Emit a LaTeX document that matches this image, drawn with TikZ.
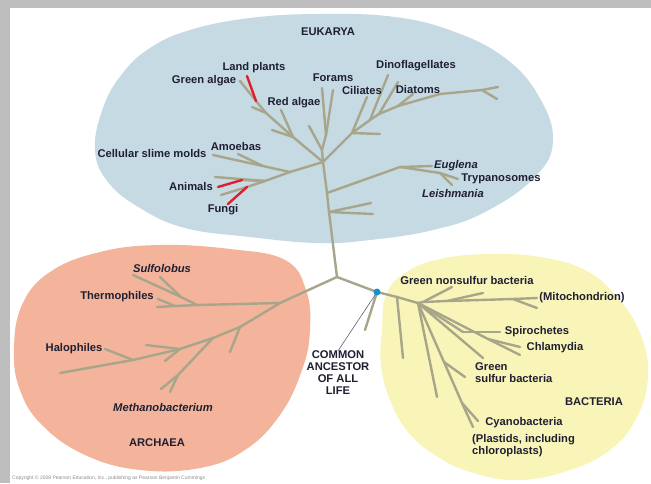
\documentclass[tikz,border=0pt]{standalone}
\usepackage{fontspec}
\setmainfont{Liberation Sans}
\usetikzlibrary{positioning}

\definecolor{frame}{RGB}{190,190,190}
\definecolor{eukblue}{HTML}{C6DAE4}
\definecolor{archsalmon}{HTML}{F3B49B}
\definecolor{bactyellow}{HTML}{F9F4B8}
\definecolor{twig}{RGB}{168,166,138}
\definecolor{plantred}{RGB}{222,30,42}
\definecolor{ink}{HTML}{1F1F33}
\definecolor{dotblue}{HTML}{1A8FD0}

\begin{document}
\begin{tikzpicture}[x=1pt,y=-1pt,
	lbl/.style={font=\bfseries\fontsize{11.2}{12}\selectfont, text=ink, inner sep=0pt},
	ital/.style={lbl, font=\bfseries\itshape\fontsize{11.2}{12}\selectfont},
	branch/.style={draw=twig, line width=2.4pt, line cap=round},
	redbranch/.style={draw=plantred, line width=2.4pt, line cap=round}]
	\useasboundingbox (0,0) rectangle (651,483);
	\fill[white] (0,0) rectangle (651,483);
	\fill[frame] (0,0) rectangle (651,8);
	\fill[frame] (0,0) rectangle (10,483);

	% the three domains
	\fill[eukblue] plot[smooth cycle, tension=0.7] coordinates {(95,150) (103,108) (122,74) (150,48) (190,30) (250,18) (320,14) (395,17) (455,32) (505,58) (538,95) (553,140) (535,177) (485,212) (433,230) (370,240) (317,243) (250,237) (185,228) (140,208) (108,182)};
	\fill[archsalmon] plot[smooth cycle, tension=0.7] coordinates {(14,350) (22,305) (50,272) (100,252) (160,245) (230,249) (285,260) (306,290) (310,330) (302,370) (280,415) (245,450) (200,468) (140,470) (85,455) (42,425) (20,390)};
	\fill[bactyellow] plot[smooth cycle, tension=0.7] coordinates {(382,330) (386,295) (405,273) (440,259) (490,254) (540,257) (585,270) (617,297) (640,333) (648,375) (637,417) (610,450) (567,471) (517,480) (470,472) (435,455) (408,432) (390,400) (381,365)};

	% branch points
	\foreach \n/\x/\y in {r/337/277, t2/329/212, t1/327/193, e1/323/162, ft/322/150, ft1/309/126,
		f1/326/135, fo1/322/88, fo2/333/90, ta/371/203, tb/373/214, g1/400/167, eu/432/166,
		g2/440/173, tr/458/179, le/452/185, a1/290/172, sm/213/155, am0/263/166, am1/238/154,
		a2/265/181, an1/215/177, an2/242/180, an3/218/187, fu1/247/187, fu2/228/204, an4/221/195,
		pj1/293/137, pt1/272/130, pt2/281/110, pj2/266/113, pt3/252/107, p1/256/101, ga/240/81,
		lp/247/76, u1/352/133, u1t/380/134, ci/367/97, u2/370/120, dn1/388/75, u3/379/114,
		dn2/398/82, u4/398/106, dt/413/94, u5/440/94, u6/482/90, ue/498/87, uf/497/99}
		\coordinate (\n) at (\x,\y);
	\foreach \n/\x/\y in {x1/280/303, s1/197/305, s2/181/297, su1/133/275, su2/160/277,
		th1/175/306, th2/158/299, th0/157/307, h1/240/327, h1t/230/352, h2/213/338,
		m1/178/375, m2/170/392, m3/161/389, h3/180/349, h3a/146/345, h3b/165/361,
		h4/133/360, h4t/105/349, hend/60/373}
		\coordinate (\n) at (\x,\y);
	\foreach \n/\x/\y in {dot/377/292, b0/418/303, bv0/397/297, bv1/403/358, bs1/365/330,
		n1/423/302, n1t/452/287, n2/447/301, n2t/483/293, n3/513/299, n3t/537/308, bm/537/298,
		sp0/463/332, sp1/500/332, ch0/488/339, ch1/520/347, ch2/520/355, gx/483/358,
		lg/437/397, gs0/444/362, gs/465/377, cf0/462/403, cf/478/421, cy/473/427}
		\coordinate (\n) at (\x,\y);

	% eukarya
	\foreach \a/\b in {r/t2, t2/t1, t1/e1, e1/ft, ft/f1, f1/fo1, f1/fo2, ft/ft1, t2/ta, t2/tb,
		t1/g1, g1/eu, g1/g2, g2/tr, g2/le, e1/a1, a1/sm, am0/am1, a1/a2, a2/an1, a2/an2,
		a2/fu1, fu1/an4, e1/pj1, pj1/pt1, pj1/pt2, pj1/pj2, pj2/pt3, pj2/p1, p1/ga,
		e1/u1, u1/u1t, u1/ci, u1/u2, u2/dn1, u2/u3, u3/dn2, u3/u4, u4/dt, u4/u5, u5/u6,
		u6/ue, u6/uf}
		\draw[branch] (\a) -- (\b);
	\foreach \a/\b in {an2/an3, fu1/fu2, p1/lp}
		\draw[redbranch] (\a) -- (\b);
	% archaea
	\foreach \a/\b in {r/x1, x1/s1, s1/th1, th1/th0, th1/th2, s1/s2, s2/su1, s2/su2,
		x1/h1, h1/h2, h2/h3, h3/h4, h4/hend, h1/h1t, h2/m1, m1/m2, m1/m3, h3/h3a, h3/h3b, h4/h4t}
		\draw[branch] (\a) -- (\b);
	% bacteria
	\foreach \a/\b in {r/dot, dot/bv0, bv0/b0, bv0/bv1, dot/bs1, b0/n1, n1/n2, n2/n3, n3/bm,
		n1/n1t, n2/n2t, n3/n3t, b0/sp0, sp0/sp1, b0/ch0, ch0/ch1, ch0/ch2, b0/gx, b0/lg,
		b0/gs0, gs0/cf0, cf0/cy, gs0/gs, cf0/cf}
		\draw[branch] (\a) -- (\b);

	\node[lbl] (euk) at (328,32) {EUKARYA};
	\node[lbl] (landpl) at (254,68) {Land plants};
	\node[lbl] (greenal) at (204,81) {Green algae};
	\node[lbl] (redal) at (294,103) {Red algae};
	\node[lbl] (forams) at (333,78) {Forams};
	\node[lbl] (cil) at (362,90) {Ciliates};
	\node[lbl] (dino) at (416,66) {Dinoflagellates};
	\node[lbl] (diat) at (418,89) {Diatoms};
	\node[lbl] (slime) at (152,153) {Cellular slime molds};
	\node[lbl] (amoeb) at (236,146) {Amoebas};
	\node[lbl] (anim) at (191,186) {Animals};
	\node[lbl] (fungi) at (223,210) {Fungi};
	\node[ital] (eugl) at (456,166) {Euglena};
	\node[lbl] (tryp) at (501,179) {Trypanosomes};
	\node[ital] (leish) at (453,193) {Leishmania};

	\node[ital] (sulf) at (162,268) {Sulfolobus};
	\node[lbl] (therm) at (117,297) {Thermophiles};
	\node[lbl] (halo) at (74,349) {Halophiles};
	\node[ital] (metha) at (163,407) {Methanobacterium};
	\node[lbl] (arch) at (157,443) {ARCHAEA};

	\node[lbl] (gnsb) at (467,280) {Green nonsulfur bacteria};
	\node[lbl] (mito) at (582,298) {(Mitochondrion)};
	\node[lbl] (spiro) at (537,332) {Spirochetes};
	\node[lbl] (chlam) at (555,348) {Chlamydia};
	\node[lbl, align=left, anchor=west] (gsb) at (475,373) {Green\\sulfur bacteria};
	\node[lbl] (bact) at (594,402) {BACTERIA};
	\node[lbl] (cyano) at (524,423) {Cyanobacteria};
	\node[lbl, align=left, anchor=west] (plast) at (472,446) {(Plastids, including\\chloroplasts)};

	\node[lbl, align=center] (anc) at (338,373) {COMMON\\ANCESTOR\\OF ALL\\LIFE};
	\draw[ink!70, line width=0.6pt] (dot) -- (anc.north);
	\node[circle, fill=dotblue, minimum size=7pt, inner sep=0pt] (dotmark) at (dot) {};

	\node[anchor=west, font=\fontsize{5}{6}\selectfont, text=black!45, inner sep=0pt] (copy) at (12,478) {Copyright © 2008 Pearson Education, Inc., publishing as Pearson Benjamin Cummings};
\end{tikzpicture}
\end{document}
